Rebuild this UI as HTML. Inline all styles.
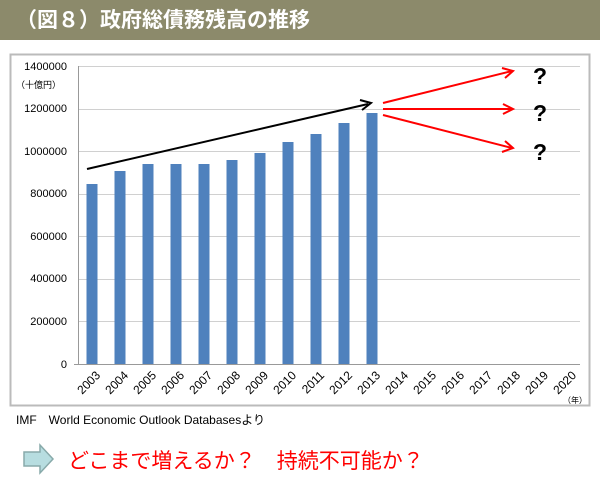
<!DOCTYPE html>
<html><head><meta charset="utf-8"><style>
body{margin:0;width:600px;height:484px;background:#fff;overflow:hidden;font-family:"Liberation Sans","Noto Sans CJK JP",sans-serif}
</style></head><body>
<svg width="600" height="484" xmlns="http://www.w3.org/2000/svg" font-family="Liberation Sans, Noto Sans CJK JP, sans-serif">
<rect x="0" y="0" width="600" height="40" fill="#8c8a6b"/>
<text x="16" y="27" font-size="21" font-weight="bold" fill="#fff">（図８）政府総債務残高の推移</text>
<rect x="10.5" y="54.5" width="579" height="351" fill="#fff" stroke="#bbb" stroke-width="2"/>
<g stroke="#d0d0d0" stroke-width="1">
<line x1="78" x2="580" y1="66.5" y2="66.5"/><line x1="78" x2="580" y1="109.5" y2="109.5"/>
<line x1="78" x2="580" y1="151.5" y2="151.5"/><line x1="78" x2="580" y1="194.5" y2="194.5"/>
<line x1="78" x2="580" y1="236.5" y2="236.5"/><line x1="78" x2="580" y1="279.5" y2="279.5"/>
<line x1="78" x2="580" y1="321.5" y2="321.5"/>
</g>
<g stroke="#999" stroke-width="1">
<line x1="78.5" x2="78.5" y1="66" y2="364"/><line x1="74" x2="580" y1="364.5" y2="364.5"/>
</g>
<g font-size="11" fill="#000" text-anchor="end">
<text x="67" y="70">1400000</text><text x="67" y="112">1200000</text><text x="67" y="155">1000000</text>
<text x="67" y="197">800000</text><text x="67" y="240">600000</text><text x="67" y="282">400000</text>
<text x="67" y="325">200000</text><text x="67" y="368">0</text>
</g>
<text x="16" y="88" font-size="9">（十億円）</text>
<g fill="#4f81bd">
<rect x="86.5" y="184" width="11" height="180"/>
<rect x="114.5" y="171" width="11" height="193"/>
<rect x="142.5" y="164" width="11" height="200"/>
<rect x="170.5" y="164" width="11" height="200"/>
<rect x="198.5" y="164" width="11" height="200"/>
<rect x="226.5" y="160" width="11" height="204"/>
<rect x="254.5" y="153" width="11" height="211"/>
<rect x="282.5" y="142" width="11" height="222"/>
<rect x="310.5" y="134" width="11" height="230"/>
<rect x="338.5" y="123" width="11" height="241"/>
<rect x="366.5" y="113" width="11" height="251"/>
</g>
<g font-size="12" fill="#000" text-anchor="end">
<text transform="translate(101,376) rotate(-45)">2003</text>
<text transform="translate(129,376) rotate(-45)">2004</text>
<text transform="translate(157,376) rotate(-45)">2005</text>
<text transform="translate(185,376) rotate(-45)">2006</text>
<text transform="translate(213,376) rotate(-45)">2007</text>
<text transform="translate(241,376) rotate(-45)">2008</text>
<text transform="translate(269,376) rotate(-45)">2009</text>
<text transform="translate(297,376) rotate(-45)">2010</text>
<text transform="translate(325,376) rotate(-45)">2011</text>
<text transform="translate(353,376) rotate(-45)">2012</text>
<text transform="translate(381,376) rotate(-45)">2013</text>
<text transform="translate(409,376) rotate(-45)">2014</text>
<text transform="translate(437,376) rotate(-45)">2015</text>
<text transform="translate(465,376) rotate(-45)">2016</text>
<text transform="translate(493,376) rotate(-45)">2017</text>
<text transform="translate(521,376) rotate(-45)">2018</text>
<text transform="translate(549,376) rotate(-45)">2019</text>
<text transform="translate(577,376) rotate(-45)">2020</text>
</g>
<text x="563" y="403" font-size="8">（年）</text>
<line x1="87" y1="169" x2="368" y2="104" stroke="#000" stroke-width="2"/>
<polyline points="360,100 371,103 362,110" fill="none" stroke="#000" stroke-width="2"/>
<g stroke="#f00" stroke-width="2" fill="none">
<line x1="383" y1="103" x2="512" y2="71"/><polyline points="502,68 513,71 505,78"/>
<line x1="383" y1="109" x2="512" y2="109"/><polyline points="503,104 513,109 503,114"/>
<line x1="383" y1="115" x2="512" y2="148"/><polyline points="505,141 513,148 502,152"/>
</g>
<g font-size="23" font-weight="bold" fill="#000" text-anchor="middle">
<text x="540" y="84">?</text><text x="540" y="121">?</text><text x="540" y="160">?</text>
</g>
<text x="16" y="424" font-size="12" fill="#000">IMF　World Economic Outlook Databasesより</text>
<polygon points="24,452 40,452 40,445 53,459 40,473 40,466 24,466" fill="#b7dde0" stroke="#8aa" stroke-width="1.5"/>
<text x="68" y="468" font-size="21" fill="#f00">どこまで増えるか？　持続不可能か？</text>
</svg>
</body></html>
